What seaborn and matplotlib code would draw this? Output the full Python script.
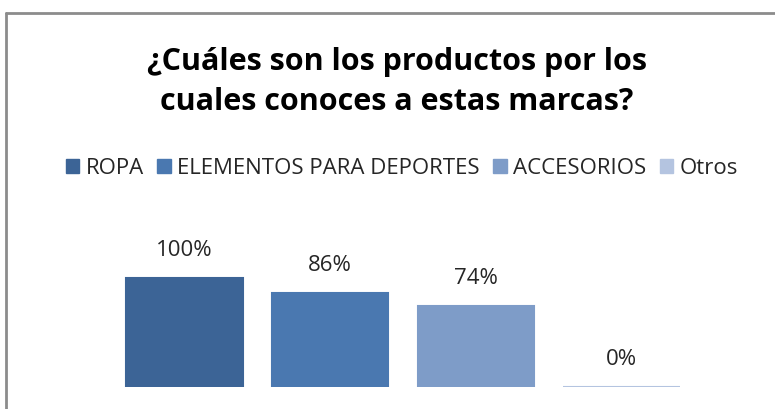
import matplotlib
matplotlib.use("Agg")
import matplotlib.pyplot as plt
import seaborn as sns
from matplotlib.lines import Line2D
from matplotlib.patches import Patch

# Datos del gráfico
categorias = ["ROPA", "ELEMENTOS PARA DEPORTES", "ACCESORIOS", "Otros"]
valores = [1.00, 0.86, 0.74, 0.0]
etiquetas = ["100%", "86%", "74%", "0%"]
colores = ["#3C6496", "#4A78B0", "#7E9CC8", "#B4C4E0"]
titulo = "¿Cuáles son los productos por los\ncuales conoces a estas marcas?"

sns.set_theme(style="white")
plt.rcParams['font.family'] = ['Open Sans', 'DejaVu Sans']

W, H = 775, 409
fig = plt.figure(figsize=(W / 100, H / 100), dpi=100)

# Ejes ubicados en píxeles
left, right = 111.5, 694.5
bottom, top = 386.7, 386.7 - 109 * 1.5
ax = fig.add_axes([left / W, 1 - bottom / H, (right - left) / W, (bottom - top) / H])

sns.barplot(x=categorias, y=valores, hue=categorias, palette=colores, ax=ax,
            width=0.8, saturation=1, legend=False)
for p, c in zip(ax.patches, colores):
    p.set_edgecolor(c)
    p.set_linewidth(1.5)

ax.set_ylim(0, 1.5)
ax.set_xlim(-0.5, 3.5)
ax.set_axis_off()

for p, txt in zip(ax.patches, etiquetas):
    ax.annotate(txt, (p.get_x() + p.get_width() / 2, p.get_height()),
                xytext=(0, 19.5), textcoords="offset points",
                ha="center", va="center", fontsize=16, color="#262626")

# Título
fig.text(397 / W, 1 - 82 / H, titulo, ha="center", va="center",
         fontsize=22, fontweight="bold", color="black", linespacing=1.45)

# Leyenda
handles = [Patch(facecolor=c, edgecolor=c) for c in colores]
fig.legend(handles, categorias, loc="center", bbox_to_anchor=(402 / W, 1 - 168 / H),
           ncol=4, frameon=False, fontsize=16, handlelength=0.6, handleheight=0.6,
           handletextpad=0.3, columnspacing=0.6, borderaxespad=0, labelcolor="#262626")

# Marco del gráfico
fig.add_artist(Line2D([6 / W, 6 / W], [0, 1 - 13 / H], color="#8C8C8C", lw=2))
fig.add_artist(Line2D([6 / W, 1], [1 - 13 / H, 1 - 13 / H], color="#8C8C8C", lw=2))

fig.savefig("out.png", dpi=100)
